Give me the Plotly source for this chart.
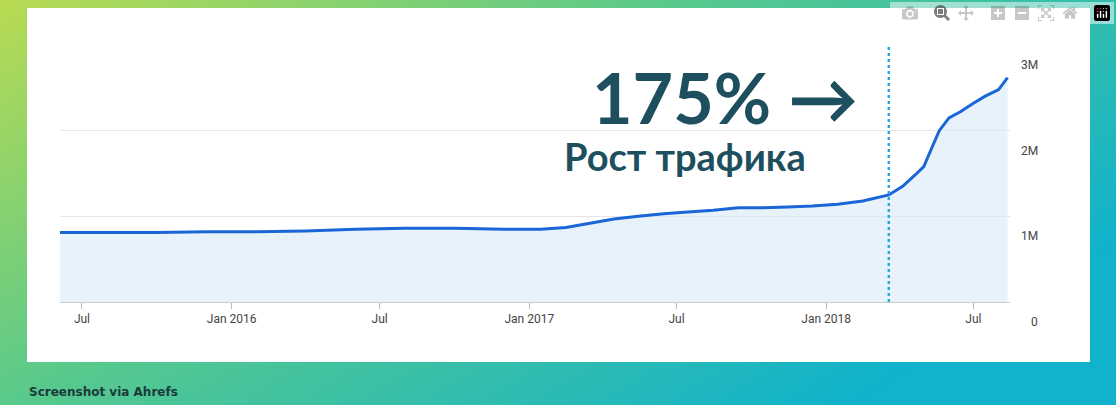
import plotly.graph_objects as go

dates = ["2015-06-04","2015-08-01","2015-10-01","2015-12-01","2016-02-01","2016-04-01","2016-06-01",
         "2016-08-01","2016-10-01","2016-12-01","2017-01-15","2017-02-15","2017-03-15","2017-04-15",
         "2017-05-15","2017-06-15","2017-07-15","2017-08-15","2017-09-15","2017-10-15","2017-11-15",
         "2017-12-15","2018-01-15","2018-02-15","2018-03-19","2018-04-05","2018-04-20","2018-05-01",
         "2018-05-10","2018-05-20","2018-06-01","2018-06-15","2018-07-01","2018-07-15","2018-08-01","2018-08-12"]
visits = [0.81e6,0.81e6,0.81e6,0.82e6,0.82e6,0.83e6,0.85e6,
          0.86e6,0.86e6,0.85e6,0.85e6,0.87e6,0.92e6,0.97e6,
          1.0e6,1.03e6,1.05e6,1.07e6,1.10e6,1.10e6,1.11e6,
          1.12e6,1.14e6,1.18e6,1.25e6,1.35e6,1.48e6,1.58e6,
          1.78e6,2.0e6,2.15e6,2.22e6,2.32e6,2.40e6,2.48e6,2.62e6]
xtick_vals = ["2015-07-01","2016-01-01","2016-07-01","2017-01-01","2017-07-01","2018-01-01","2018-07-01"]
xtick_text = ["Jul","Jan 2016","Jul","Jan 2017","Jul","Jan 2018","Jul"]
ytick_vals = [0, 1e6, 2e6, 3e6]
ytick_text = ["0", "1M", "2M", "3M"]
marker_date = "2018-03-19"

bg_svg = ("data:image/svg+xml;utf8,<svg xmlns='http://www.w3.org/2000/svg' width='1116' height='405'>"
          "<defs><linearGradient id='g' x1='0' y1='0' x2='1' y2='0.6'>"
          "<stop offset='0' stop-color='%23b9db52'/><stop offset='0.45' stop-color='%2358c98c'/>"
          "<stop offset='1' stop-color='%2310b2cc'/></linearGradient></defs>"
          "<rect width='1116' height='405' fill='url(%23g)'/></svg>")

fig = go.Figure()
fig.add_trace(go.Scatter(x=dates, y=visits, mode="lines", line=dict(color="#1a66d6", width=3),
                         fill="tozeroy", fillcolor="rgba(210,230,248,0.5)", hoverinfo="skip"))

W, H = 1116, 405
def py(p): return 1 - p / H
def px(p): return p / W

fig.update_layout(
    width=W, height=H, margin=dict(l=0, r=0, t=0, b=0),
    paper_bgcolor="white", plot_bgcolor="rgba(0,0,0,0)", showlegend=False,
    images=[dict(source=bg_svg, xref="paper", yref="paper", x=0, y=1, sizex=1, sizey=1,
                 xanchor="left", yanchor="top", sizing="stretch", layer="below")],
    xaxis=dict(domain=[px(60), px(1010)], range=["2015-06-04", "2018-08-15"], type="date",
               tickvals=xtick_vals, ticktext=xtick_text, ticks="outside", ticklen=6, tickcolor="#bbb",
               showgrid=False, showline=True, linecolor="#ccc", zeroline=False,
               tickfont=dict(family="Roboto", size=12, color="#444")),
    yaxis=dict(domain=[py(302), py(45)], range=[0, 3e6], tickvals=ytick_vals, showticklabels=False,
               showgrid=True, gridcolor="#e6e6e6", zeroline=False),
    shapes=[dict(type="rect", xref="paper", yref="paper", x0=px(27), x1=px(1090), y0=py(362), y1=py(8),
                 fillcolor="white", line=dict(width=0), layer="below"),
            dict(type="line", xref="x", yref="paper", x0=marker_date, x1=marker_date, y0=py(302), y1=py(45),
                 line=dict(color="#2aa8d8", width=2.5, dash="dot"))],
)
for v, t in zip(ytick_vals, ytick_text):
    fig.add_annotation(xref="paper", yref="y", x=px(1040), y=v, yshift=-20, text=t, showarrow=False,
                       font=dict(family="Roboto", size=12, color="#444"))
fig.add_annotation(xref="paper", yref="paper", x=px(860), y=py(97), xanchor="right", yanchor="middle",
                   text="175% →", showarrow=False,
                   font=dict(family="Lato", size=70, color="#1d4f5e", weight="bold"))
fig.add_annotation(xref="paper", yref="paper", x=px(808), y=py(156), xanchor="right", yanchor="middle",
                   text="Рост трафика", showarrow=False,
                   font=dict(family="Lato", size=38, color="#1d4f5e", weight="bold"))
fig.add_annotation(xref="paper", yref="paper", x=px(27), y=py(392), xanchor="left", yanchor="middle",
                   text="Screenshot via Ahrefs", showarrow=False,
                   font=dict(family="DejaVu Sans", size=12, color="#1b3a3a", weight="bold"))
fig.write_html("out.html")
with open("out.html", encoding="utf-8") as f:
    html = f.read()
html = html.replace("<body>", "<body style='margin:0;overflow:hidden'>", 1)
with open("out.html", "w", encoding="utf-8") as f:
    f.write(html)
